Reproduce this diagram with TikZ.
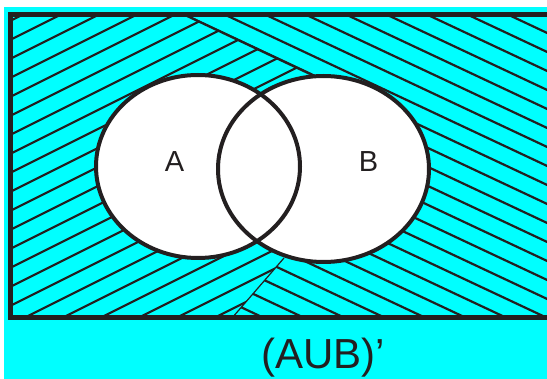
\documentclass[tikz,border=0pt]{standalone}
\usepackage{fontspec}
\setmainfont{Liberation Sans}
\usepackage{tikz}
\definecolor{vennink}{RGB}{35,31,32}
\definecolor{venncyan}{RGB}{0,255,255}

\begin{document}
\begin{tikzpicture}[
  x=1pt, y=-1pt,
  hatch/.style={line width=2.2pt, draw=vennink},
  setline/.style={line width=4pt, draw=vennink},
  setlabel/.style={font=\fontsize{29}{29}\selectfont, text=vennink},
  complabel/.style={font=\fontsize{42}{42}\selectfont, text=vennink},
]
\useasboundingbox (0,0) rectangle (547,379);
\fill[white] (0,0) rectangle (547,379);
\fill[venncyan] (4,7) rectangle (547,379);

% Hatching, left part
\begin{scope}
  \clip (10,15) -- (185,15) -- (310,74) -- (258,240) -- (284,258) -- (232,318) -- (10,318) -- cycle;
  \foreach \k in {-2,...,32}
    \draw[hatch] (0,45+19*\k) -- ++(560,-280);
\end{scope}

% Hatching, right part
\begin{scope}
  \clip (185,15) -- (552,15) -- (552,318) -- (232,318) -- (284,258) -- (258,240) -- (310,74) -- cycle;
  \foreach \k in {-10,...,21}
    \draw[hatch] (0,-72+19*\k) -- ++(560,263);
\end{scope}
\draw[hatch] (185,15) -- (310,74);
\draw[hatch, line width=1.2pt] (232,318) -- (284,258);

% Universal set
\draw[line width=5pt, vennink] (10,15) rectangle (552,318);

% Sets A and B
\fill[white] (198,166.5) ellipse [x radius=102, y radius=91.5];
\fill[white] (323.5,169) ellipse [x radius=105.5, y radius=93];
\draw[setline] (198,166.5) ellipse [x radius=102, y radius=91.5];
\draw[setline] (323.5,169) ellipse [x radius=105.5, y radius=93];

\node[setlabel] (labelA) at (174.5,162) {A};
\node[setlabel] (labelB) at (368.5,162) {B};
\node[complabel] (complement) at (323,358) {(AUB)’};
\end{tikzpicture}
\end{document}
